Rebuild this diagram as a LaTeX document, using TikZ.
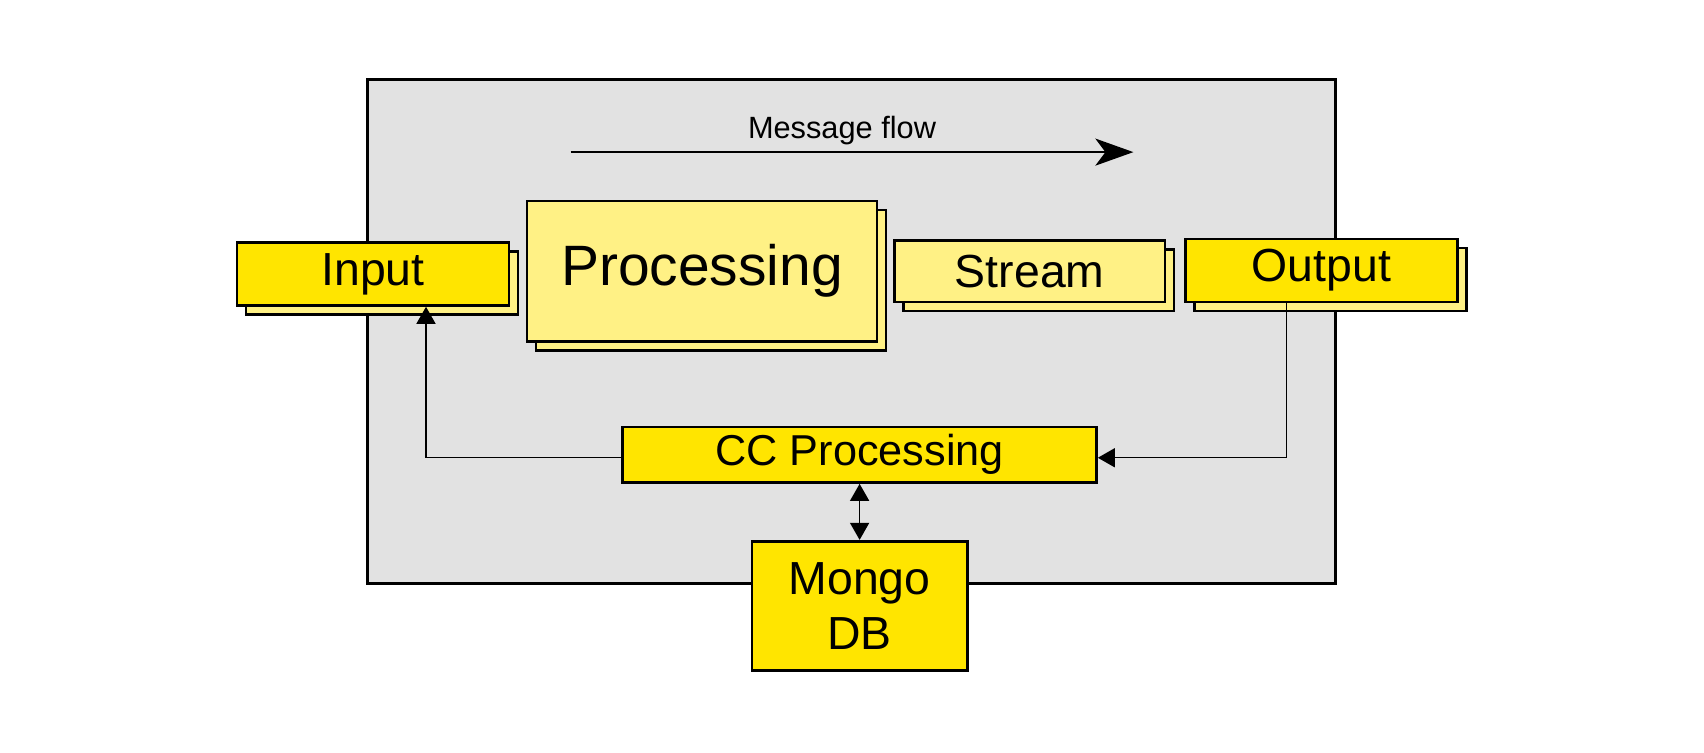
\documentclass[tikz,border=0pt]{standalone}
\usepackage{fontspec}
\setmainfont{Liberation Sans}
\usetikzlibrary{arrows.meta,shadows}
\definecolor{boxyellow}{HTML}{FFE500}
\definecolor{paleyellow}{HTML}{FFF185}
\definecolor{panelgray}{HTML}{E2E2E2}
\tikzset{
  part/.style={draw, line width=0.75pt, fill=boxyellow, inner sep=0pt, font=\fontsize{13.2}{15.7}\selectfont},
  stacked/.style={copy shadow={shadow xshift=0.09cm, shadow yshift=-0.09cm, fill=paleyellow, draw=black, line width=0.75pt}},
  link/.style={line width=0.4pt, -{Triangle[length=0.17cm, width=0.19cm]}}
}

\begin{document}
\begin{tikzpicture}
\useasboundingbox (0,0) rectangle (17.04,7.52);
\draw[line width=0.7pt, fill=panelgray] (3.673,6.727) rectangle (13.356,1.684);

\coordinate (flowstart) at (5.705,5.999);
\coordinate (flowend) at (11.334,5.999);
\draw[line width=0.7pt, -{Stealth[length=0.38cm, width=0.27cm, inset=0.1cm]}] (flowstart) -- (flowend);
\node[font=\fontsize{8.75}{10}\selectfont] (flowlabel) at (8.42,6.21) {Message flow};

\node[part, stacked, minimum width=2.717cm, minimum height=0.631cm] (inp) at (3.73,4.781) {Input};
\node[part, stacked, fill=paleyellow, minimum width=3.5cm, minimum height=1.402cm, font=\fontsize{16.2}{19}\selectfont] (proc) at (7.02,4.809) {Processing};
\node[part, stacked, fill=paleyellow, minimum width=2.706cm, minimum height=0.619cm] (strm) at (10.297,4.808) {Stream};
\node[part, stacked, minimum width=2.717cm, minimum height=0.63cm] (outp) at (13.215,4.815) {Output};

\node[part, minimum width=4.738cm, minimum height=0.555cm, font=\fontsize{12.3}{15}\selectfont] (cc) at (8.596,2.9725) {CC Processing};
\node[part, minimum width=2.152cm, minimum height=1.293cm, align=center] (mongo) at (8.596,1.4615) {Mongo\\DB};

\draw[link] ([yshift=-0.3mm]cc.west) -| ([xshift=5.3mm]inp.south);
\draw[link] ([xshift=-3.48mm]outp.south) |- ([yshift=-0.3mm]cc.east);
\draw[link, {Triangle[length=0.17cm, width=0.19cm]}-{Triangle[length=0.17cm, width=0.19cm]}] (cc.south) -- (mongo.north);
\end{tikzpicture}
\end{document}
